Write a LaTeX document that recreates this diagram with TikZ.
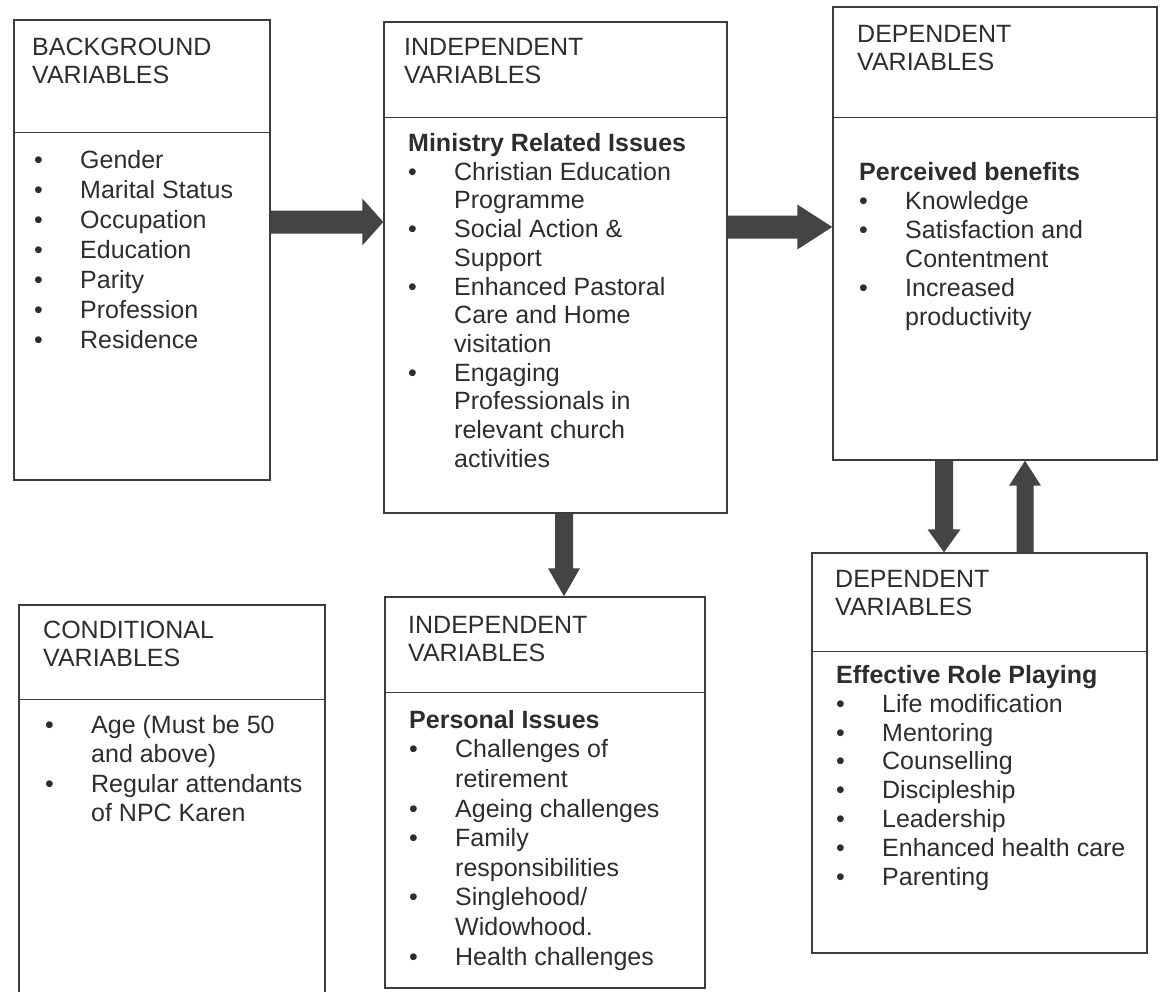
\documentclass[tikz,border=0pt]{standalone}
\usepackage{fontspec}
\setmainfont{Liberation Sans}
\usetikzlibrary{calc}
\definecolor{ink}{RGB}{45,45,45}
\definecolor{linec}{RGB}{60,60,60}
\definecolor{arrowc}{RGB}{68,68,68}
\newcommand\tstrut{\rule{0pt}{20pt}}
\newcommand\bul{\makebox[46pt][l]{\textbullet}}
\newcommand\ind{\hspace*{46pt}}
\newcommand\fatarrow[5]{%
  \coordinate (fab) at ($(#2)!#5!(#1)$);
  \fill[arrowc] ($(#1)!#3!90:(#2)$) -- ($(fab)!#3!90:(#2)$) -- ($(fab)!#4!90:(#2)$) -- (#2)
    -- ($(fab)!#4!-90:(#2)$) -- ($(fab)!#3!-90:(#2)$) -- ($(#1)!#3!-90:(#2)$) -- cycle;}
\begin{document}
\begin{tikzpicture}[x=1pt,y=-1pt,
  box/.style={draw=linec, line width=1.4pt, inner sep=0pt},
  divider/.style={draw=linec, line width=1.4pt},
  hdr/.style={anchor=north west, inner sep=0pt, align=left, text=ink, font=\fontsize{25}{28}\selectfont},
  body/.style={anchor=north west, inner sep=0pt, align=left, text=ink, font=\fontsize{25}{#1}\selectfont}]
\useasboundingbox (0,0) rectangle (1166,991);

% boxes
\node[box, minimum width=256pt, minimum height=460pt] (b1) at (142,250) {};
\node[box, minimum width=343pt, minimum height=491pt] (b2) at (555.5,267.5) {};
\node[box, minimum width=324pt, minimum height=453pt] (b3) at (995,233.5) {};
\node[box, minimum width=306pt, minimum height=395pt] (b4) at (172,802.5) {};
\node[box, minimum width=320pt, minimum height=391pt] (b5) at (545,792.5) {};
\node[box, minimum width=335pt, minimum height=400pt] (b6) at (979.5,753) {};

% header dividers
\draw[divider] ([yshift=-113pt]b1.north west) -- ([yshift=-113pt]b1.north east);
\draw[divider] ([yshift=-96pt]b2.north west) -- ([yshift=-96pt]b2.north east);
\draw[divider] ([yshift=-111pt]b3.north west) -- ([yshift=-111pt]b3.north east);
\draw[divider] ([yshift=-95pt]b4.north west) -- ([yshift=-95pt]b4.north east);
\draw[divider] ([yshift=-96pt]b5.north west) -- ([yshift=-96pt]b5.north east);
\draw[divider] ([yshift=-99pt]b6.north west) -- ([yshift=-99pt]b6.north east);

% headers
\node[hdr] (h1) at (32,35) {\tstrut BACKGROUND\\VARIABLES};
\node[hdr] (h2) at (404,35) {\tstrut INDEPENDENT\\VARIABLES};
\node[hdr] (h3) at (857,22) {\tstrut DEPENDENT\\VARIABLES};
\node[hdr] (h4) at (43,618) {\tstrut CONDITIONAL\\VARIABLES};
\node[hdr] (h5) at (408,613) {\tstrut INDEPENDENT\\VARIABLES};
\node[hdr] (h6) at (835,567) {\tstrut DEPENDENT\\VARIABLES};

% bodies
\node[body=30] (l1) at (34,148) {\tstrut\bul Gender\\\bul Marital Status\\\bul Occupation\\\bul Education\\\bul Parity\\\bul Profession\\\bul Residence};
\node[body=28.7] (l2) at (408,131.3) {\tstrut\textbf{Ministry Related Issues}\\\bul Christian Education\\\ind Programme\\\bul Social Action \&\\\ind Support\\\bul Enhanced Pastoral\\\ind Care and Home\\\ind visitation\\\bul Engaging\\\ind Professionals in\\\ind relevant church\\\ind activities};
\node[body=29] (l3) at (859,160) {\tstrut\textbf{Perceived benefits}\\\bul Knowledge\\\bul Satisfaction and\\\ind Contentment\\\bul Increased\\\ind productivity};
\node[body=29.5] (l4) at (45,713) {\tstrut\bul Age (Must be 50\\\ind and above)\\\bul Regular attendants\\\ind of NPC Karen};
\node[body=29.6] (l5) at (409,708) {\tstrut\textbf{Personal Issues}\\\bul Challenges of\\\ind retirement\\\bul Ageing challenges\\\bul Family\\\ind responsibilities\\\bul Singlehood/\\\ind Widowhood.\\\bul Health challenges};
\node[body=28.9] (l6) at (836,663) {\tstrut\textbf{Effective Role Playing}\\\bul Life modification\\\bul Mentoring\\\bul Counselling\\\bul Discipleship\\\bul Leadership\\\bul Enhanced health care\\\bul Parenting};

% arrows
\coordinate (a1y) at (0,222);
\coordinate (a2y) at (0,227);
\coordinate (a3x) at (564,0);
\coordinate (a4x) at (944,0);
\coordinate (a5x) at (1025,0);
\coordinate (a1s) at (b1.east |- a1y);
\coordinate (a1e) at (b2.west |- a1y);
\coordinate (a2s) at (b2.east |- a2y);
\coordinate (a2e) at (b3.west |- a2y);
\coordinate (a3s) at (b2.south -| a3x);
\coordinate (a3e) at (b5.north -| a3x);
\coordinate (a4s) at (b3.south -| a4x);
\coordinate (a4e) at (b6.north -| a4x);
\coordinate (a5s) at (b6.north -| a5x);
\coordinate (a5e) at (b3.south -| a5x);
\fatarrow{a1s}{a1e}{11.5pt}{23.5pt}{21pt}
\fatarrow{a2s}{a2e}{11.5pt}{22.5pt}{35pt}
\fatarrow{a3s}{a3e}{9pt}{16pt}{28pt}
\fatarrow{a4s}{a4e}{9pt}{16.5pt}{23pt}
\fatarrow{a5s}{a5e}{8.5pt}{16pt}{25pt}
\end{tikzpicture}
\end{document}
